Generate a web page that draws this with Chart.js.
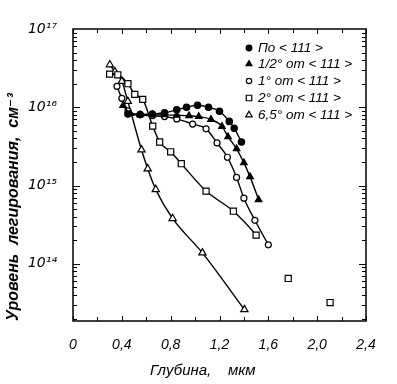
<!DOCTYPE html>
<html>
<head>
<meta charset="utf-8">
<script src="https://cdn.jsdelivr.net/npm/chart.js@4/dist/chart.umd.min.js"></script>
<style>
  html, body { margin: 0; padding: 0; background: #fff; }
  #wrap { width: 397px; height: 384px; }
</style>
</head>
<body>
<div id="wrap"><canvas id="c" width="397" height="384"></canvas></div>
<script>
// Depth, µm
const depthAlong = [0.45, 0.55, 0.65, 0.75, 0.85, 0.93, 1.02, 1.11, 1.2, 1.28, 1.32, 1.38];
const valAlong   = [8.2e15, 8.1e15, 8.2e15, 8.5e15, 9.3e15, 1.0e16, 1.06e16, 1.0e16, 8.9e15, 6.6e15, 5.4e15, 3.6e15];

const depthHalf = [0.41, 0.47, 0.55, 0.65, 0.75, 0.85, 0.95, 1.03, 1.13, 1.22, 1.27, 1.34, 1.4, 1.45, 1.52];
const valHalf   = [1.05e16, 8.3e15, 8.0e15, 8.0e15, 8.0e15, 7.9e15, 7.8e15, 7.6e15, 7.0e15, 5.7e15, 4.2e15, 2.95e15, 1.95e15, 1.3e15, 6.6e14];

const depthOne = [0.36, 0.4, 0.45, 0.55, 0.65, 0.75, 0.85, 0.98, 1.09, 1.18, 1.265, 1.34, 1.4, 1.49, 1.6];
const valOne   = [1.85e16, 1.3e16, 9.0e15, 8.0e15, 7.8e15, 7.6e15, 7.1e15, 6.1e15, 5.3e15, 3.5e15, 2.3e15, 1.27e15, 6.9e14, 3.6e14, 1.75e14];

const depthTwo = [0.3, 0.367, 0.45, 0.506, 0.571, 0.653, 0.71, 0.8, 0.887, 1.09, 1.314, 1.5, 1.763, 2.106];
const valTwo   = [2.65e16, 2.6e16, 2.0e16, 1.46e16, 1.26e16, 5.75e15, 3.6e15, 2.7e15, 1.9e15, 8.5e14, 4.7e14, 2.33e14, 6.5e13, 3.2e13];
const twoLastConnected = 11; // points after this index are not joined by the curve

const depthSix = [0.302, 0.343, 0.4, 0.449, 0.561, 0.612, 0.678, 0.816, 1.06, 1.404];
const valSix   = [3.5e16, 2.86e16, 2.15e16, 1.19e16, 2.86e15, 1.64e15, 8.9e14, 3.8e14, 1.38e14, 2.6e13];

const seriesNames = ['По < 111 >', '1/2° от < 111 >', '1° от < 111 >', '2° от < 111 >', '6,5° от < 111 >'];
const xTickValues = [0, 0.4, 0.8, 1.2, 1.6, 2.0, 2.4];
const yTickValues = [1e14, 1e15, 1e16, 1e17];
const supers = {'1':'¹','2':'²','3':'³','4':'⁴','5':'⁵','6':'⁶','7':'⁷','8':'⁸','9':'⁹','0':'⁰'};

function pts(xs, ys) { return xs.map((x, i) => ({ x: x, y: ys[i] })); }

const baseDs = {
  showLine: true,
  borderColor: '#000',
  borderWidth: 1.4,
  cubicInterpolationMode: 'monotone',
  pointBorderColor: '#000',
  pointBorderWidth: 1.2
};

const datasets = [
  Object.assign({}, baseDs, { label: seriesNames[0], data: pts(depthAlong, valAlong), pointStyle: 'circle', pointRadius: 3.2, pointBackgroundColor: '#000' }),
  Object.assign({}, baseDs, { label: seriesNames[1], data: pts(depthHalf, valHalf), pointStyle: 'triangle', pointRadius: 3.8, pointBackgroundColor: '#000' }),
  Object.assign({}, baseDs, { label: seriesNames[2], data: pts(depthOne, valOne), pointStyle: 'circle', pointRadius: 3, pointBackgroundColor: '#fff' }),
  Object.assign({}, baseDs, { label: seriesNames[3], data: pts(depthTwo, valTwo), pointStyle: 'rect', pointRadius: 4.3, pointBackgroundColor: '#fff',
    segment: { borderColor: ctx => ctx.p1DataIndex > twoLastConnected ? 'rgba(0,0,0,0)' : '#000' } }),
  Object.assign({}, baseDs, { label: seriesNames[4], data: pts(depthSix, valSix), pointStyle: 'triangle', pointRadius: 4.2, pointBackgroundColor: '#fff' })
];

const framePlugin = {
  id: 'frame',
  afterDraw(chart) {
    const ctx = chart.ctx;
    const xs = chart.scales.x, ys = chart.scales.y;
    const { left, right, top, bottom } = chart.chartArea;
    ctx.save();
    ctx.strokeStyle = '#000';
    ctx.lineWidth = 1.5;
    ctx.strokeRect(left, top, right - left, bottom - top);
    ctx.lineWidth = 1;
    for (let i = 0; i <= 12; i++) {
      const v = i * 0.2;
      const px = Math.round(xs.getPixelForValue(v)) + 0.5;
      const len = (i % 2 === 0) ? 5 : 4;
      ctx.beginPath();
      ctx.moveTo(px, bottom); ctx.lineTo(px, bottom - len);
      ctx.moveTo(px, top); ctx.lineTo(px, top + len);
      ctx.stroke();
    }
    for (let d = 13; d <= 16; d++) {
      for (let m = 1; m <= 9; m++) {
        const val = m * Math.pow(10, d);
        if (val < ys.min || val > ys.max) continue;
        const py = Math.round(ys.getPixelForValue(val)) + 0.5;
        const len = m === 1 ? 7 : 4;
        ctx.beginPath();
        ctx.moveTo(left, py); ctx.lineTo(left + len, py);
        ctx.moveTo(right, py); ctx.lineTo(right - len, py);
        ctx.stroke();
      }
    }
    // legend inside the plot, top right
    const rowsY = [48, 64, 81, 98, 115];
    const markX = 249, textX = 258;
    ctx.font = 'italic 13.5px "Liberation Sans", "DejaVu Sans", sans-serif';
    ctx.textBaseline = 'middle';
    ctx.textAlign = 'left';
    chart.data.datasets.forEach((ds, i) => {
      ctx.fillStyle = ds.pointBackgroundColor;
      ctx.strokeStyle = '#000';
      ctx.lineWidth = 1.2;
      Chart.helpers.drawPoint(ctx, { pointStyle: ds.pointStyle, radius: ds.pointRadius * 0.9, borderWidth: 1.2, rotation: 0 }, markX, rowsY[i]);
      ctx.fillStyle = '#000';
      ctx.fillText(ds.label, textX, rowsY[i]);
    });
    ctx.restore();
  }
};

new Chart(document.getElementById('c'), {
  type: 'scatter',
  data: { datasets: datasets },
  options: {
    responsive: false,
    animation: false,
    layout: { padding: { top: 29, right: 31, left: 0, bottom: 0 } },
    plugins: { legend: { display: false }, tooltip: { enabled: false } },
    scales: {
      x: {
        type: 'linear',
        min: 0, max: 2.4,
        grid: { display: false },
        border: { display: false },
        afterFit(scale) { scale.height = 63; },
        afterBuildTicks(scale) { scale.ticks = xTickValues.map(v => ({ value: v })); },
        ticks: {
          color: '#000',
          padding: 8,
          font: { family: '"Liberation Sans", "DejaVu Sans", sans-serif', size: 14, style: 'italic' },
          callback: v => v === 0 ? '0' : v.toFixed(1).replace('.', ',')
        },
        title: {
          display: true,
          text: 'Глубина,    мкм        ',
          color: '#000',
          padding: { top: 4 },
          font: { family: '"Liberation Sans", "DejaVu Sans", sans-serif', size: 15, style: 'italic' }
        }
      },
      y: {
        type: 'logarithmic',
        min: 1.86e13, max: 1e17,
        grid: { display: false },
        border: { display: false },
        afterFit(scale) { scale.width = 73; },
        afterBuildTicks(scale) { scale.ticks = yTickValues.map(v => ({ value: v })); },
        ticks: {
          color: '#000',
          padding: 8,
          font: { family: '"DejaVu Sans", sans-serif', size: 14, style: 'italic' },
          callback: v => '10' + String(Math.round(Math.log10(v))).split('').map(c => supers[c]).join('')
        },
        title: {
          display: true,
          text: 'Уровень  легирования,  см⁻³',
          color: '#000',
          align: 'start',
          padding: { bottom: 0 },
          font: { family: '"Liberation Sans", "DejaVu Sans", sans-serif', size: 16, style: 'italic', weight: 'bold' }
        }
      }
    }
  },
  plugins: [framePlugin]
});
</script>
</body>
</html>
